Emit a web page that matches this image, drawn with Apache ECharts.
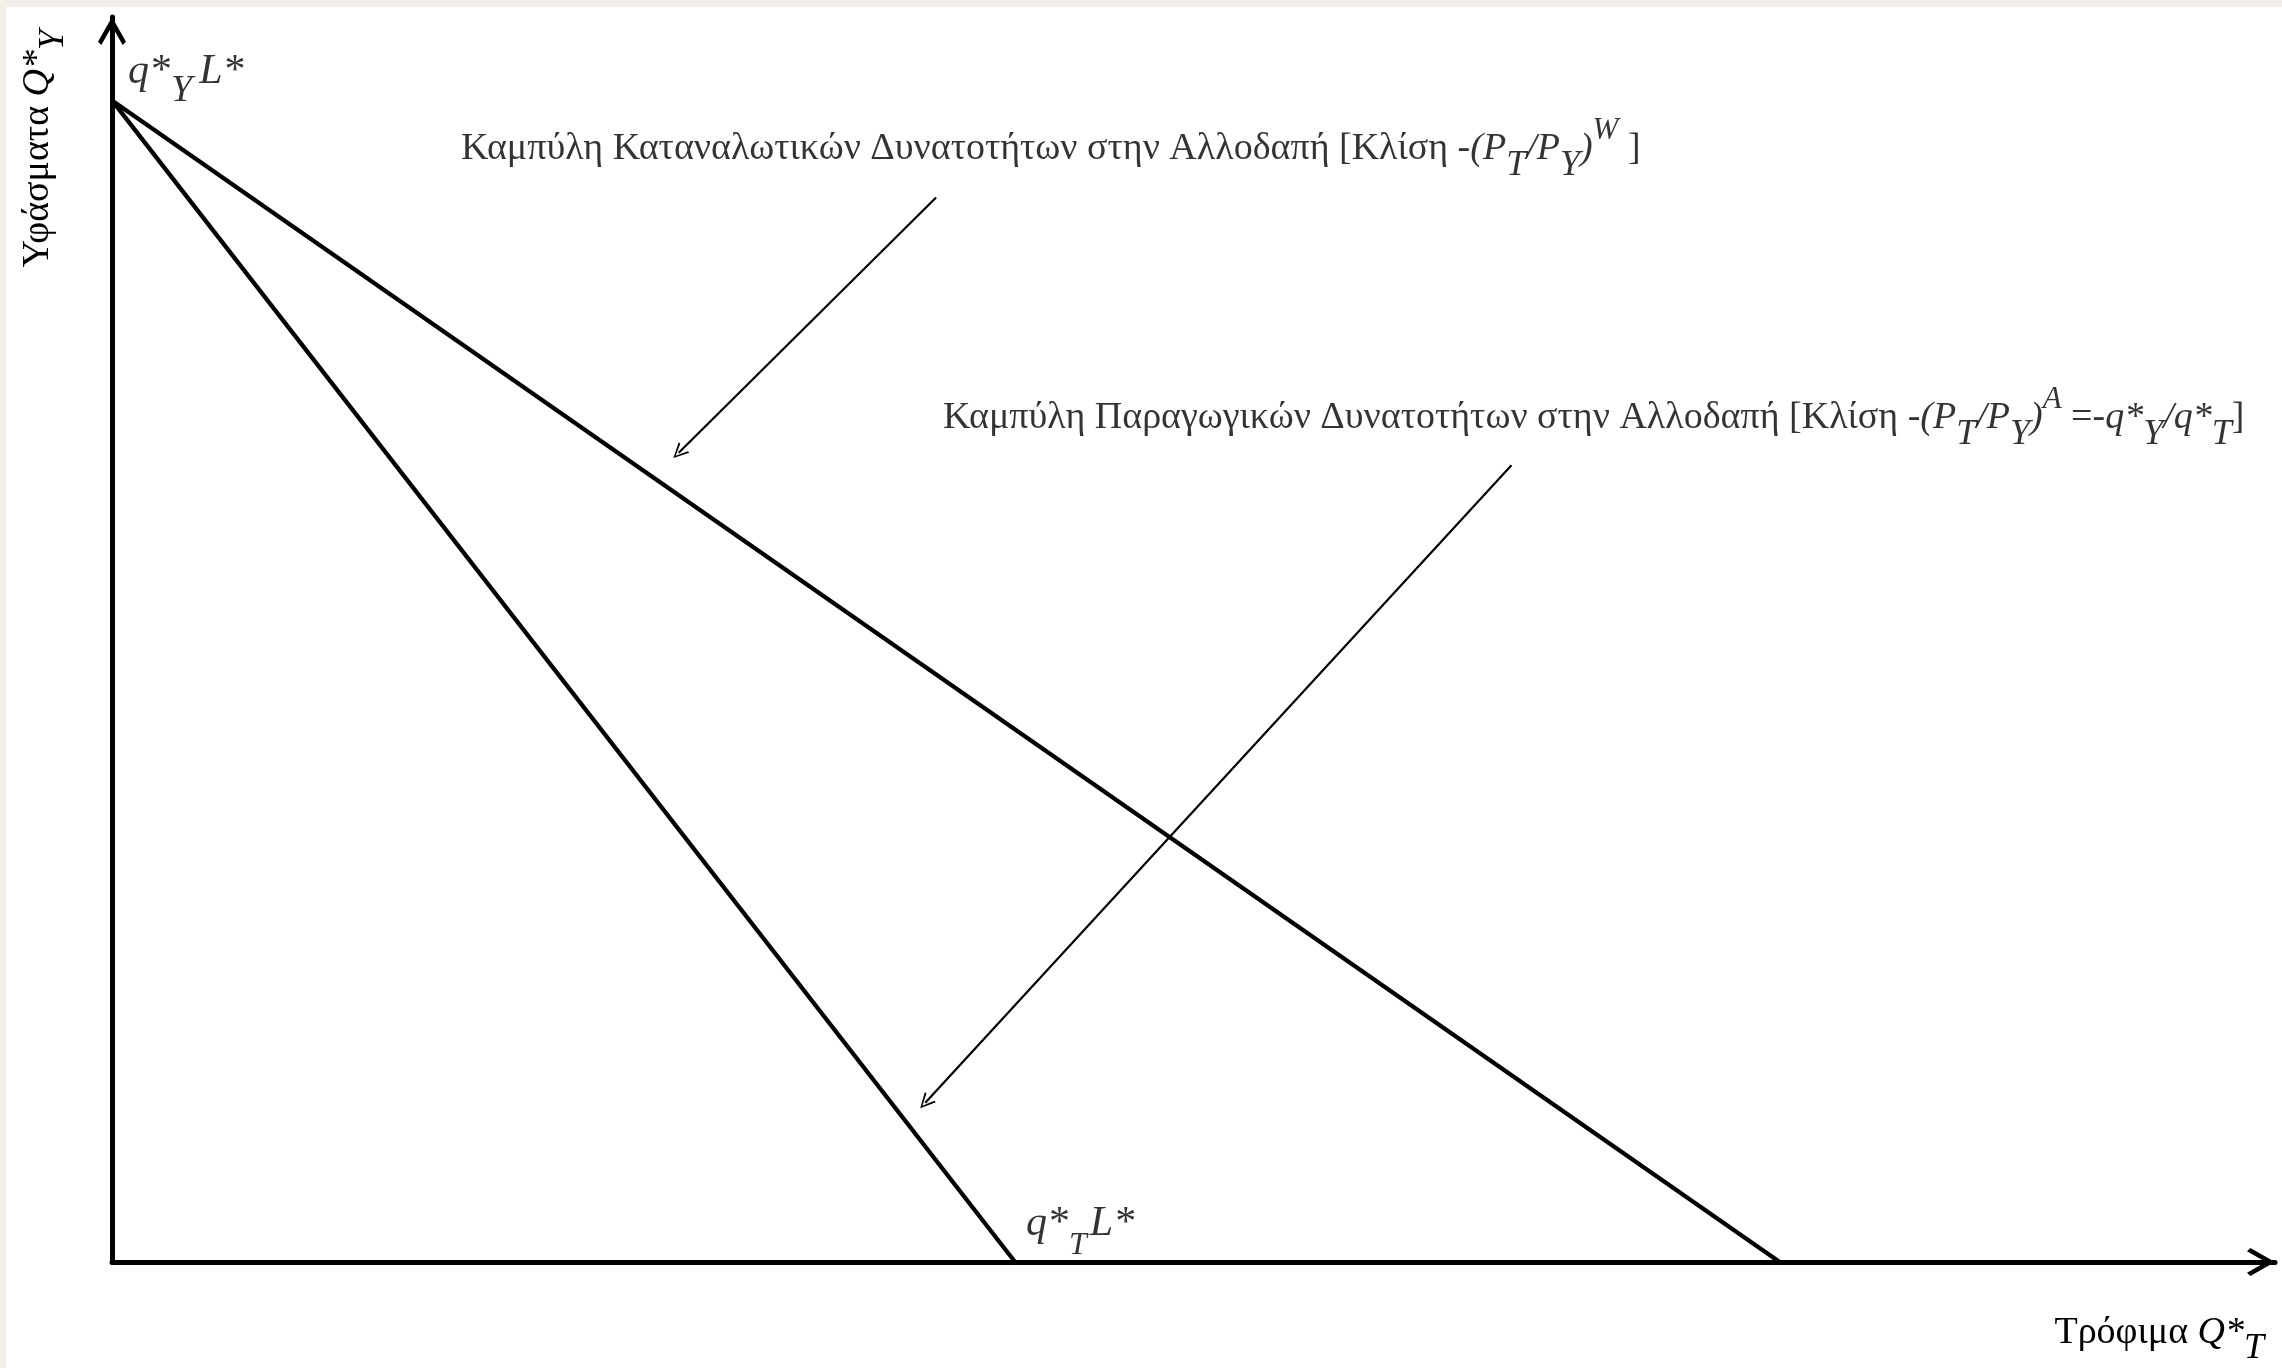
<!DOCTYPE html>
<html>
<head>
<meta charset="utf-8">
<script src="https://cdn.jsdelivr.net/npm/echarts@6/dist/echarts.min.js"></script>
<style>
html,body{margin:0;padding:0;width:2282px;height:1368px;overflow:hidden;background:#f3efe8;}
#c{position:absolute;left:6px;top:7px;width:2276px;height:1361px;background:#ffffff;}
</style>
</head>
<body>
<div id="c"></div>
<script>
// ---- data (arbitrary units on both axes) ----
const xRange = [0, 100];
const yRange = [0, 100];
const qYL = 93.3;            // q*_Y L*  (vertical intercept)
const qTL = 41.75;           // q*_T L*  (horizontal intercept, production line)
const consIntercept = 77.1;  // horizontal intercept, consumption line
const productionLine = [[0, qYL], [qTL, 0]];
const consumptionLine = [[0, qYL], [consIntercept, 0]];
const arrowCons = [[38.1, 85.5], [26.2, 65.0]];
const arrowProd = [[64.7, 64.0], [37.6, 12.8]];
const noteConsAnchor = [16.13, 89.36];
const noteProdAnchor = [38.42, 67.75];

// ---- texts ----
const xTitle = '{n|Τρόφιμα }{i|Q*}{sb|T}';
const yTitle = '{n|Υφάσματα }{i|Q*}{sb|Y}';
const labelQY = '{qi|q*}{qs|Y}{qi|L*}';
const labelQT = '{qi|q*}{qs2|T}{qi|L*}';
const noteCons = '{n|Καμπύλη Καταναλωτικών Δυνατοτήτων στην Αλλοδαπή [Κλίση -}{i|(P}{sb|T}{i|/P}{sb|Y}{i|)}{sp|W}{n| ]}';
const noteProd = '{n|Καμπύλη Παραγωγικών Δυνατοτήτων στην Αλλοδαπή [Κλίση -}{i|(P}{sb|T}{i|/P}{sb|Y}{i|)}{sp|A}{n| =-}{i|q*}{sb|Y}{i|/q*}{sb|T}{n|]}';

const F = '"Liberation Serif", "Times New Roman", serif';
const FS = 38;
const rich = {
  n:  {fontFamily: F, fontSize: FS, color: '#000', lineHeight: 68, verticalAlign: 'middle'},
  i:  {fontFamily: F, fontSize: FS, fontStyle: 'italic', color: '#000', lineHeight: 68, verticalAlign: 'middle'},
  sb: {fontFamily: F, fontSize: 36, fontStyle: 'italic', color: '#000', lineHeight: 36, verticalAlign: 'bottom'},
  sp: {fontFamily: F, fontSize: 31, fontStyle: 'italic', color: '#000', lineHeight: 46, verticalAlign: 'top'},
  qi: {fontFamily: F, fontSize: 42, fontStyle: 'italic', color: '#000', lineHeight: 76, verticalAlign: 'middle', padding: [0, 1, 0, 1]},
  qs: {fontFamily: F, fontSize: 38, fontStyle: 'italic', color: '#000', lineHeight: 38, verticalAlign: 'bottom', padding: [0, 6, 0, 0]},
  qs2:{fontFamily: F, fontSize: 32, fontStyle: 'italic', color: '#000', lineHeight: 58, verticalAlign: 'bottom', padding: [0, 2, 0, 0]}
};

const axisArrow = 'path://M50,0 L100,88 L88,100 L50,33 L12,100 L0,88 Z';
const noteArrow = 'path://M50,0 L100,100 L86,100 L50,22 L14,100 L0,100 Z';

const chart = echarts.init(document.getElementById('c'), null, {renderer: 'canvas'});
chart.setOption({
  animation: false,
  backgroundColor: '#ffffff',
  grid: {left: 106, right: 7, top: 10, bottom: 106, containLabel: false},
  xAxis: {
    type: 'value', min: xRange[0], max: xRange[1],
    axisLine: {show: true, onZero: false, lineStyle: {color: '#000', width: 5},
      symbol: ['none', axisArrow], symbolSize: [30, 28], symbolOffset: [0, -14]},
    axisTick: {show: false}, axisLabel: {show: false}, splitLine: {show: false},
    name: xTitle, nameLocation: 'end', nameGap: 0,
    nameTextStyle: {align: 'right', verticalAlign: 'top', padding: [37, 11, 0, 0], rich: rich}
  },
  yAxis: {
    type: 'value', min: yRange[0], max: yRange[1],
    axisLine: {show: true, onZero: false, lineStyle: {color: '#000', width: 5},
      symbol: ['none', axisArrow], symbolSize: [30, 28], symbolOffset: [0, -14]},
    axisTick: {show: false}, axisLabel: {show: false}, splitLine: {show: false},
    name: yTitle, nameLocation: 'end', nameGap: -13, nameRotate: 90,
    nameTextStyle: {align: 'right', verticalAlign: 'bottom', padding: [0, 0, 40, 0], rich: rich}
  },
  series: [
    {type: 'line', name: 'production', data: productionLine, symbol: 'none', silent: true,
     lineStyle: {color: '#000', width: 4.3}, z: 3},
    {type: 'line', name: 'consumption', data: consumptionLine, symbol: 'none', silent: true,
     lineStyle: {color: '#000', width: 4.3}, z: 3},
    {type: 'lines', coordinateSystem: 'cartesian2d', silent: true,
     symbol: ['none', noteArrow], symbolSize: [12, 15],
     lineStyle: {color: '#000', width: 2.2, opacity: 1, curveness: 0},
     data: [{coords: arrowCons}, {coords: arrowProd}], z: 4},
    {type: 'scatter', symbolSize: 0, silent: true, z: 5,
     label: {show: true, position: 'right', distance: 0, align: 'left', verticalAlign: 'middle', rich: rich},
     data: [
       {value: productionLine[0], label: {formatter: labelQY, offset: [15, -28]}},
       {value: productionLine[1], label: {formatter: labelQT, offset: [10, -38]}},
       {value: noteConsAnchor, label: {formatter: noteCons}},
       {value: noteProdAnchor, label: {formatter: noteProd}}
     ]}
  ]
});
</script>
</body>
</html>
